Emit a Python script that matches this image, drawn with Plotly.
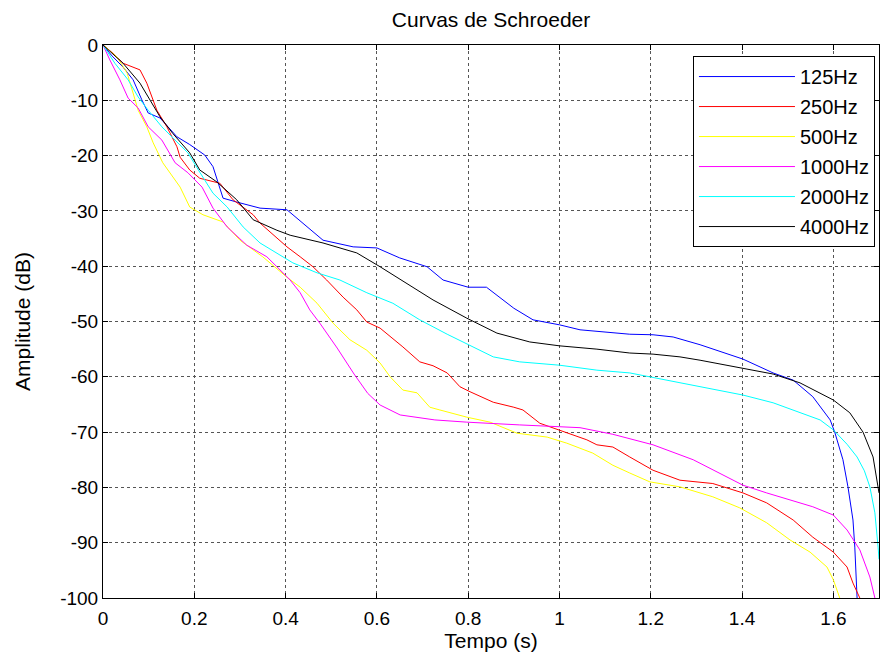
import plotly.graph_objects as go

# ---- data ----
labels = ["125Hz", "250Hz", "500Hz", "1000Hz", "2000Hz", "4000Hz"]
colors = ["#0000FF", "#FF0000", "#FFFF00", "#FF00FF", "#00FFFF", "#000000"]

t_125 = [0, 0.02, 0.044, 0.066, 0.085, 0.099, 0.125, 0.162, 0.19, 0.223, 0.241, 0.252, 0.263, 0.293,
         0.344, 0.403, 0.438, 0.457, 0.482, 0.548, 0.6, 0.65, 0.71, 0.745, 0.8, 0.84, 0.9, 0.942, 1.0,
         1.045, 1.1, 1.154, 1.205, 1.249, 1.308, 1.402, 1.468, 1.512, 1.555, 1.593, 1.603, 1.614, 1.621,
         1.632, 1.643, 1.647, 1.652]
db_125 = [0, -2, -4, -6.3, -9.9, -12.3, -13.2, -16.6, -18, -19.9, -22, -25, -27.7, -28.4,
          -29.5, -29.8, -32.2, -33.5, -35.3, -36.5, -36.7, -38.5, -40.1, -42.5, -43.8, -43.8, -47.6, -49.7, -50.6,
          -51.5, -51.9, -52.3, -52.4, -52.8, -54.2, -56.8, -59.3, -60.6, -63.6, -67.8, -70, -73.2, -75,
          -79.9, -85.9, -90.8, -100]

t_250 = [0, 0.022, 0.044, 0.081, 0.096, 0.107, 0.118, 0.14, 0.162, 0.169, 0.19, 0.212, 0.256, 0.285,
         0.329, 0.344, 0.366, 0.403, 0.432, 0.46, 0.49, 0.526, 0.556, 0.578, 0.607, 0.657, 0.694, 0.723,
         0.754, 0.782, 0.804, 0.855, 0.9, 0.92, 0.957, 1.0, 1.06, 1.082, 1.117, 1.154, 1.205, 1.264,
         1.336, 1.402, 1.454, 1.512, 1.555, 1.6, 1.63, 1.643, 1.658]
db_250 = [0, -1.5, -3.3, -4.5, -6.9, -9.4, -11.8, -14.8, -18.4, -20.3, -22.6, -24.1, -25, -28,
          -30.7, -32.2, -33.8, -36.5, -38.3, -40.1, -42.5, -45.6, -47.9, -50.1, -51.2, -54.6, -57.3, -58,
          -59.3, -61.8, -62.7, -64.6, -65.5, -66, -68.4, -69.6, -71.4, -72.3, -72.7, -74.5, -76.9, -78.7,
          -79.3, -81, -82.8, -85.9, -89, -91.7, -94.4, -97.3, -100]

t_500 = [0, 0.031, 0.053, 0.066, 0.077, 0.096, 0.11, 0.131, 0.153, 0.169, 0.19, 0.219, 0.263, 0.3,
         0.35, 0.403, 0.432, 0.469, 0.504, 0.541, 0.578, 0.607, 0.629, 0.657, 0.688, 0.716, 0.738, 0.797,
         0.848, 0.907, 0.973, 1.016, 1.073, 1.117, 1.154, 1.198, 1.264, 1.336, 1.395, 1.454, 1.505, 1.549,
         1.586, 1.6, 1.614]
db_500 = [0, -2.2, -5.1, -8.7, -11.8, -14.8, -17.7, -21.3, -23.9, -25.7, -29.3, -30.7, -32, -35.3,
          -38.3, -42, -43.8, -46.7, -50.3, -53.3, -55.2, -57.5, -60, -62.4, -62.9, -65.5, -66, -67.3,
          -68.2, -70.2, -70.9, -72, -73.8, -76, -77.4, -79, -79.9, -81.7, -83.7, -86.4, -89.5, -91.7,
          -94.4, -96.7, -100]

t_1000 = [0, 0.015, 0.037, 0.055, 0.077, 0.099, 0.129, 0.158, 0.186, 0.217, 0.241, 0.272, 0.315, 0.359,
          0.381, 0.41, 0.432, 0.453, 0.475, 0.497, 0.513, 0.55, 0.58, 0.607, 0.651, 0.727, 0.797, 0.913,
          1.045, 1.117, 1.205, 1.293, 1.402, 1.454, 1.555, 1.6, 1.63, 1.658, 1.68, 1.691]
db_1000 = [0, -2.7, -6.3, -9.6, -11.4, -14.8, -17.2, -21.3, -23.1, -25.7, -29.5, -32.9, -36.2, -38.3,
           -40.1, -42.5, -44.8, -47.9, -50.3, -52.8, -54.8, -59.5, -63, -65.1, -66.9, -67.8, -68.2, -68.7,
           -69.2, -70.4, -72.3, -75, -79.6, -81, -83.5, -85, -87.7, -91.3, -96.2, -100]

t_2000 = [0, 0.026, 0.055, 0.077, 0.099, 0.129, 0.158, 0.186, 0.212, 0.241, 0.272, 0.307, 0.344, 0.381,
          0.416, 0.469, 0.519, 0.578, 0.635, 0.694, 0.754, 0.855, 0.913, 1.0, 1.082, 1.154, 1.198, 1.308,
          1.402, 1.468, 1.527, 1.571, 1.6, 1.63, 1.652, 1.668, 1.68, 1.691, 1.698, 1.7]
db_2000 = [0, -3.3, -6.3, -9.4, -11.8, -14.8, -17.2, -19.5, -23, -26.8, -29.3, -32.9, -35.8, -37.6,
           -39.4, -41.2, -42.5, -44.8, -46.7, -49.7, -52.3, -56.4, -57.3, -57.9, -58.8, -59.3, -60, -61.8,
           -63.3, -64.7, -66.5, -67.8, -69.6, -72.2, -74.5, -77, -79.9, -84.6, -90.8, -93]

t_4000 = [0, 0.044, 0.081, 0.103, 0.125, 0.153, 0.19, 0.212, 0.25, 0.293, 0.329, 0.381, 0.41, 0.482,
          0.556, 0.607, 0.68, 0.723, 0.797, 0.863, 0.935, 1.0, 1.082, 1.154, 1.205, 1.264, 1.308, 1.402,
          1.468, 1.527, 1.6, 1.636, 1.665, 1.687, 1.698, 1.7]
db_4000 = [0, -3.3, -6.9, -9.9, -13, -16, -19.5, -22.6, -24.8, -28, -31.6, -33.5, -34.4, -35.8,
           -37.6, -40.1, -43.8, -46.1, -49.4, -52.1, -53.7, -54.4, -55, -55.7, -55.9, -56.4, -57, -58.4,
           -59.5, -61.1, -64.2, -66.5, -70, -74.5, -79.9, -81]

x_tickvals = [0, 0.2, 0.4, 0.6, 0.8, 1.0, 1.2, 1.4, 1.6]
x_ticktext = ["0", "0.2", "0.4", "0.6", "0.8", "1", "1.2", "1.4", "1.6"]
y_tickvals = [0, -10, -20, -30, -40, -50, -60, -70, -80, -90, -100]
y_ticktext = ["0", "-10", "-20", "-30", "-40", "-50", "-60", "-70", "-80", "-90", "-100"]

series_t = [t_125, t_250, t_500, t_1000, t_2000, t_4000]
series_db = [db_125, db_250, db_500, db_1000, db_2000, db_4000]

font_family = "Liberation Sans, Arial, sans-serif"

fig = go.Figure()
for name, col, tt, dd in zip(labels, colors, series_t, series_db):
    fig.add_trace(go.Scatter(x=tt, y=dd, mode="lines", name=name, legendgroup=name,
                             line=dict(color=col, width=1)))

axis_common = dict(
    showline=True, linecolor="black", linewidth=1, mirror="allticks",
    ticks="inside", ticklen=5, tickcolor="black",
    showgrid=True, gridcolor="#555555", griddash="dot", gridwidth=1,
    zeroline=False, tickfont=dict(size=19, color="black", family=font_family),
)

fig.update_layout(
    width=880, height=656,
    margin=dict(l=103, r=1, t=45, b=58),
    paper_bgcolor="white", plot_bgcolor="white",
    font=dict(family=font_family, color="black"),
    title=dict(text="Curvas de Schroeder", x=0.558, xanchor="center", y=0.97, yanchor="middle",
               font=dict(size=21, color="black")),
    xaxis=dict(range=[0, 1.7], tickvals=x_tickvals, ticktext=x_ticktext, ticklabelstandoff=3,
               title=dict(text="Tempo (s)", font=dict(size=21), standoff=0), **axis_common),
    yaxis=dict(range=[-100, 0], tickvals=y_tickvals, ticktext=y_ticktext,
               title=dict(text="Amplitude (dB)", font=dict(size=21), standoff=23), **axis_common),
    legend=dict(x=0.9948, xanchor="right", y=0.980, yanchor="top",
                bgcolor="white", bordercolor="black", borderwidth=1,
                font=dict(size=20, color="black"), tracegroupgap=1,
                traceorder="grouped", itemwidth=96),
    showlegend=True,
)

fig.write_html(
    "out.html",
    config={"displayModeBar": False},
    post_script="document.body.style.margin='0';document.body.style.padding='0';"
                "document.documentElement.style.overflow='hidden';",
)
